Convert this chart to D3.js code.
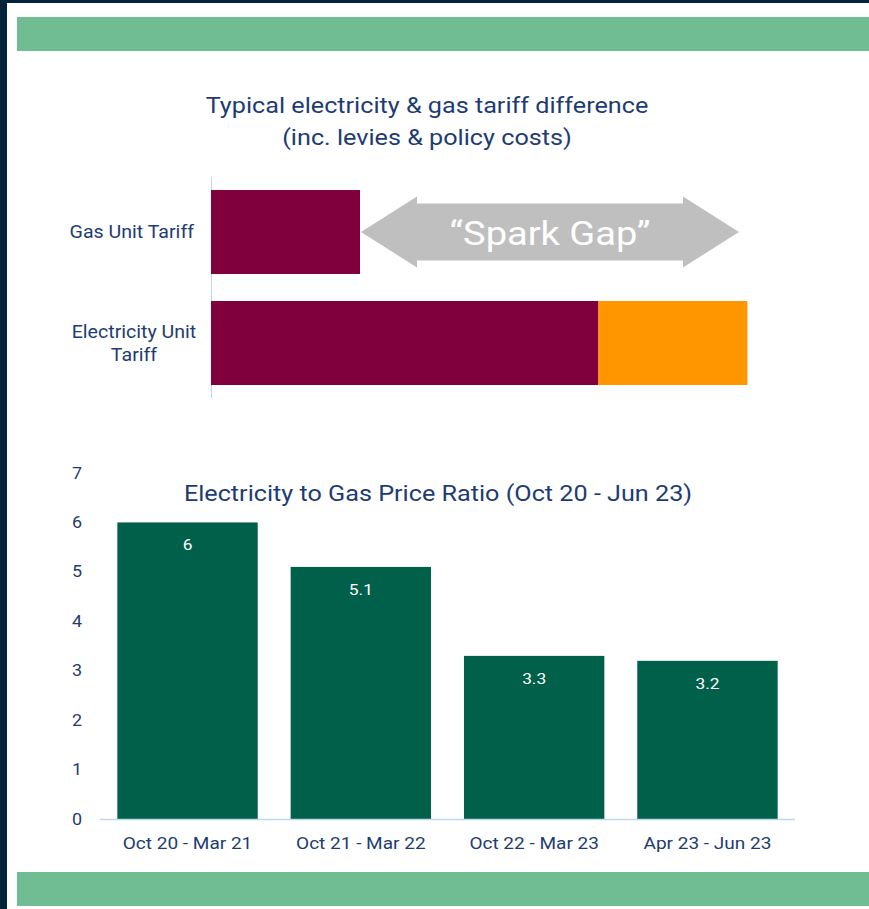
<!DOCTYPE html>
<html>
<head>
<meta charset="utf-8">
<script src="https://cdn.jsdelivr.net/npm/d3@7"></script>
<style>
  body { margin: 0; background: #03233a; }
  svg { display: block; font-family: Roboto, "Open Sans", sans-serif; }
</style>
</head>
<body>
<div id="chart"></div>
<script>
// top chart: tariffs (relative p/kWh)
var tariffCategories = ["Gas Unit Tariff", "Electricity Unit Tariff"];
var tariffBase = [10, 26];
var tariffGap = [0, 10];

// bottom chart: ratio
var ratioCategories = ["Oct 20 - Mar 21", "Oct 21 - Mar 22", "Oct 22 - Mar 23", "Apr 23 - Jun 23"];
var ratioValues = [6, 5.1, 3.3, 3.2];
var ratioTicks = [0, 1, 2, 3, 4, 5, 6, 7];

var textColor = "#1e3c72";
var sx = 1.12; // source text is a bit wide

var svg = d3.select("#chart")
  .append("svg")
  .attr("width", 869)
  .attr("height", 909);

// places a text, slightly stretched sideways
function label(g, x, y, str, size, anchor, color) {
  return g.append("text")
    .attr("transform", "translate(" + x + "," + y + ") scale(" + sx + ",1)")
    .attr("text-anchor", anchor || "middle")
    .style("font-size", size + "px")
    .style("fill", color || textColor)
    .text(str);
}

// background panel
svg.append("rect").attr("x", 0).attr("y", 0).attr("width", 869).attr("height", 909).attr("fill", "#03233a");
svg.append("rect").attr("x", 7).attr("y", 3).attr("width", 862).attr("height", 906).attr("fill", "#ffffff");

// green bands
svg.append("rect").attr("x", 17).attr("y", 17).attr("width", 852).attr("height", 34).attr("fill", "#70bc93");
svg.append("rect").attr("x", 17).attr("y", 872).attr("width", 852).attr("height", 34).attr("fill", "#70bc93");

// ---------- top chart ----------
label(svg, 427, 113, "Typical electricity & gas tariff difference", 22.5);
label(svg, 427, 145, "(inc. levies & policy costs)", 22.5);

var xT = d3.scaleLinear()
  .domain([0, 10])
  .range([211, 360]);

var yT = d3.scaleBand()
  .domain(tariffCategories)
  .range([177, 398])
  .paddingInner(0.243)
  .paddingOuter(0.117);

// axis line
svg.append("line")
  .attr("x1", 211.5).attr("x2", 211.5)
  .attr("y1", 177).attr("y2", 398)
  .style("stroke", "#bdd7ee")
  .style("stroke-width", 1);

svg.selectAll(".tbase")
  .data(tariffCategories)
  .enter()
  .append("rect")
  .attr("class", "tbase")
  .attr("x", xT(0))
  .attr("y", function (d) { return yT(d); })
  .attr("width", function (d, i) { return xT(tariffBase[i]) - xT(0); })
  .attr("height", yT.bandwidth())
  .style("fill", "#7f003c");

svg.selectAll(".tgap")
  .data(tariffCategories)
  .enter()
  .append("rect")
  .attr("class", "tgap")
  .attr("x", function (d, i) { return xT(tariffBase[i]); })
  .attr("y", function (d) { return yT(d); })
  .attr("width", function (d, i) { return xT(tariffBase[i] + tariffGap[i]) - xT(tariffBase[i]); })
  .attr("height", yT.bandwidth())
  .style("fill", "#ff9600");

// category labels
var gasMid = yT(tariffCategories[0]) + yT.bandwidth() / 2;
var elecMid = yT(tariffCategories[1]) + yT.bandwidth() / 2;
label(svg, 194, gasMid + 6, tariffCategories[0], 17.5, "end");
label(svg, 134, elecMid - 5, "Electricity Unit", 17.5);
label(svg, 134, elecMid + 18, "Tariff", 17.5);

// spark gap double arrow
var ay = gasMid;
var ax0 = xT(tariffBase[0]) + 1, ax1 = 739;
var headW = 56, headH = 35.5, shaftH = 28.5;
var arrowPts = [
  [ax0, ay],
  [ax0 + headW, ay - headH],
  [ax0 + headW, ay - shaftH],
  [ax1 - headW, ay - shaftH],
  [ax1 - headW, ay - headH],
  [ax1, ay],
  [ax1 - headW, ay + headH],
  [ax1 - headW, ay + shaftH],
  [ax0 + headW, ay + shaftH],
  [ax0 + headW, ay + headH]
];
svg.append("polygon")
  .attr("points", arrowPts.map(function (p) { return p.join(","); }).join(" "))
  .style("fill", "#bfbfbf");

label(svg, (ax0 + ax1) / 2, ay + 13, "\u201cSpark Gap\u201d", 34, "middle", "#ffffff");

// ---------- bottom chart ----------
var x = d3.scaleBand()
  .domain(ratioCategories)
  .range([100, 795])
  .paddingInner(0.19)
  .paddingOuter(0.1);

var y = d3.scaleLinear()
  .domain([0, 7])
  .range([819, 473]);

label(svg, 438, 501, "Electricity to Gas Price Ratio (Oct 20 - Jun 23)", 22.5);

ratioTicks.forEach(function (t) {
  label(svg, 77, y(t) + 5.5, t, 16);
});

svg.selectAll(".bar")
  .data(ratioValues)
  .enter()
  .append("rect")
  .attr("class", "bar")
  .attr("x", function (d, i) { return x(ratioCategories[i]); })
  .attr("y", function (d) { return y(d); })
  .attr("width", x.bandwidth())
  .attr("height", function (d) { return y(0) - y(d); })
  .style("fill", "#00604a");

ratioValues.forEach(function (v, i) {
  label(svg, x(ratioCategories[i]) + x.bandwidth() / 2, y(v) + 28, v, 15.5, "middle", "#ffffff");
});

svg.append("line")
  .attr("x1", 100).attr("x2", 795)
  .attr("y1", 819.5).attr("y2", 819.5)
  .style("stroke", "#bdd7ee")
  .style("stroke-width", 1.5);

ratioCategories.forEach(function (c) {
  label(svg, x(c) + x.bandwidth() / 2, 849, c, 17);
});
</script>
</body>
</html>
